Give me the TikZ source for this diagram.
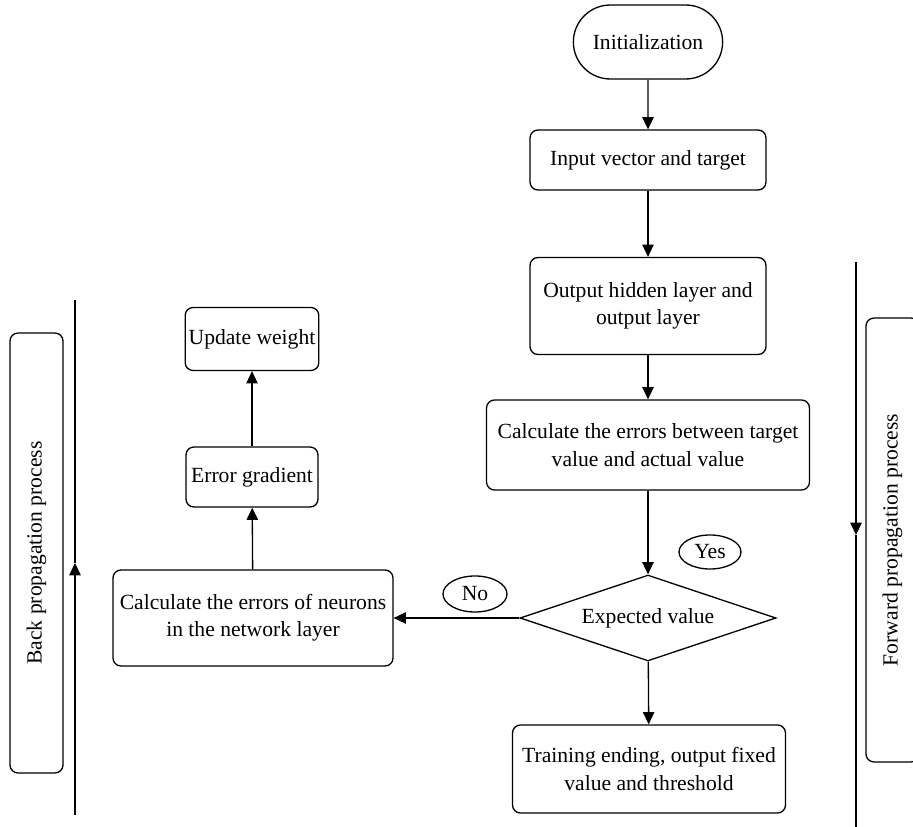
\documentclass[tikz,border=0pt]{standalone}
\usepackage{fontspec}
\setmainfont{Liberation Serif}
\usetikzlibrary{arrows.meta,shapes.geometric,shapes.misc}

\tikzset{
  box/.style={draw,rounded corners=4.5pt,align=center,inner sep=2pt},
  term/.style={draw,rounded rectangle,align=center},
  answer/.style={draw,ellipse,inner sep=0pt},
  decide/.style={draw,diamond,aspect=3,inner sep=0pt},
  side/.style={draw,rounded corners=4.5pt,rotate=90},
  >={Triangle[width=6.5pt,length=7pt]}
}

\begin{document}
\begin{tikzpicture}[x=0.02cm,y=-0.02cm,line width=0.75pt,font=\fontsize{12.3}{15.5}\selectfont]
  \useasboundingbox (0,0) rectangle (913,827);

    % --------------------------------------------------------- %
    % ------------- forward part (right column)
    % --------------------------------------------------------- %
    \node[term,minimum width=3.22cm,minimum height=1.48cm] (init) at (648,42) {Initialization};
    \node[box,minimum width=4.72cm,minimum height=1.2cm] (input) at (648,160) {Input vector and target};
    \draw [->] (init) -- (input);
    \node[box,minimum width=4.72cm,minimum height=1.94cm] (hidden) at (648,306) {Output hidden layer and \\ output layer};
    \draw [->] (input) -- (hidden);
    \node[box,minimum width=6.46cm,minimum height=1.8cm] (errors) at (648,445) {Calculate the errors between target \\ value and actual value};
    \draw [->] (hidden) -- (errors);
    % --- decision
    \node[decide,minimum width=5.12cm,minimum height=1.72cm] (expect) at (648,618) {Expected value};
    \draw [->] (errors) -- (expect);
    \node[answer,minimum width=1.24cm,minimum height=0.68cm] (yes) at (710,552) {Yes};
    \node[box,minimum width=5.46cm,minimum height=1.76cm] (train) at (649,769) {Training ending, output fixed \\ value and threshold};
    \draw [->] (expect) -- (train);

    % --------------------------------------------------------- %
    % ------------- back part (left column)
    % --------------------------------------------------------- %
    \node[answer,minimum width=1.28cm,minimum height=0.72cm] (no) at (475,594) {No};
    \node[box,minimum width=5.6cm,minimum height=1.92cm] (neurons) at (253,618) {Calculate the errors of neurons \\ in the network layer};
    \draw [->] (expect) -- (neurons);
    \node[box,minimum width=2.64cm,minimum height=1.2cm] (grad) at (252,477) {Error gradient};
    \draw [->] (neurons) -- (grad);
    \node[box,minimum width=2.64cm,minimum height=1.26cm] (update) at (252,339) {Update weight};
    \draw [->] (grad) -- (update);

    % --------------------------------------------------------- %
    % ------------- process bars
    % --------------------------------------------------------- %
    \node[side,minimum width=8.8cm,minimum height=1.06cm] (back) at (36.5,553) {Back propagation process};
    \coordinate (backbot) at (75,815);
    \coordinate (backmid) at (75,563);
    \coordinate (backtop) at (75,300);
    \draw [->] (backbot) -- (backmid);
    \draw (backmid) -- (backtop);
    \node[side,minimum width=8.88cm,minimum height=1.06cm] (fwd) at (892.5,540) {Forward propagation process};
    \coordinate (fwdtop) at (856,262);
    \coordinate (fwdmid) at (856,535);
    \coordinate (fwdbot) at (856,827);
    \draw [->] (fwdtop) -- (fwdmid);
    \draw (fwdmid) -- (fwdbot);

  \end{tikzpicture}
\end{document}
